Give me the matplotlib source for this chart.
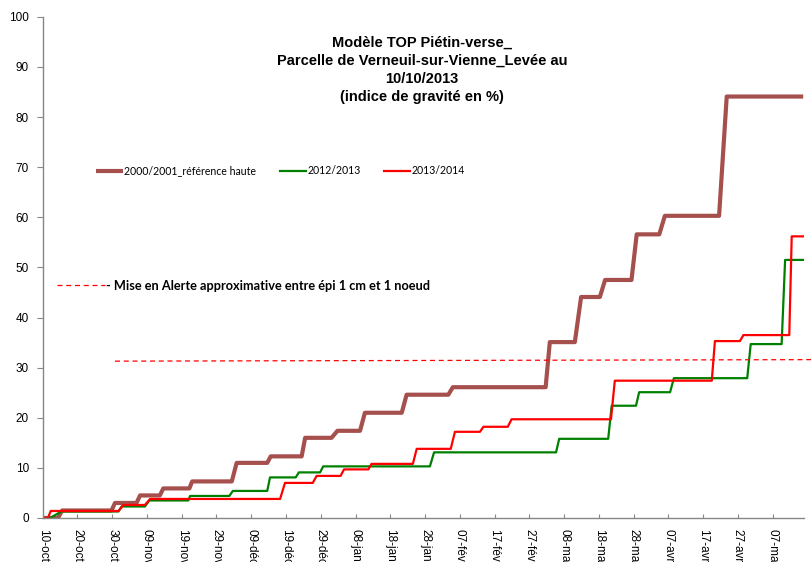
import matplotlib
matplotlib.use("Agg")
import matplotlib.pyplot as plt
from matplotlib.lines import Line2D

# days counted from 10 October (leap-year calendar, as on the original axis)
tick_days = list(range(0, 211, 10))
tick_labels = ["10-oct", "20-oct", "30-oct", "09-nov", "19-nov", "29-nov",
               "09-déc", "19-déc", "29-déc", "08-jan", "18-jan", "28-jan",
               "07-fév", "17-fév", "27-fév", "08-mar", "18-mar", "28-mar",
               "07-avr", "17-avr", "27-avr", "07-mai"]
tick_labels = tick_labels[:len(tick_days)]

ref_days = [0, 4.4, 5.6, 19.8, 20.8, 27.0, 28.0, 33.7, 34.7, 42.2, 43.0, 54.4, 55.8,
            64.6, 65.6, 74.5, 75.5, 83.1, 84.8, 91.3, 92.7, 103.3, 104.7, 116.7, 118.0,
            144.7, 145.9, 153.1, 154.9, 160.3, 161.8, 169.4, 170.9, 177.4, 179.0,
            194.6, 196.8, 218.8]
ref_vals = [0, 0, 1.5, 1.5, 3.0, 3.0, 4.5, 4.5, 5.9, 5.9, 7.3, 7.3, 11.0,
            11.0, 12.3, 12.3, 16.0, 16.0, 17.4, 17.4, 21.0, 21.0, 24.6, 24.6, 26.1,
            26.1, 35.1, 35.1, 44.1, 44.1, 47.5, 47.5, 56.6, 56.6, 60.3,
            60.3, 84.1, 84.1]

s1213_days = [0, 2.1, 5.4, 21.8, 22.7, 29.4, 30.7, 41.9, 42.4, 53.7, 54.7, 64.6, 65.4,
              72.8, 73.7, 79.8, 80.7, 111.4, 112.6, 147.7, 148.6, 162.7, 163.7,
              170.7, 171.6, 180.5, 181.6, 202.7, 203.7, 212.6, 213.6, 218.8]
s1213_vals = [0, 0, 1.3, 1.3, 2.3, 2.3, 3.5, 3.5, 4.4, 4.4, 5.4, 5.4, 8.1,
              8.1, 9.1, 9.1, 10.3, 10.3, 13.1, 13.1, 15.8, 15.8, 22.4,
              22.4, 25.1, 25.1, 27.9, 27.9, 34.7, 34.7, 51.5, 51.5]

s1314_days = [0, 1.5, 2.3, 21.8, 23.2, 29.4, 30.9, 68.3, 69.7, 77.7, 78.8, 85.7, 86.7,
              93.7, 94.6, 106.5, 107.6, 117.4, 118.6, 125.8, 126.8, 133.8, 134.9,
              163.5, 164.6, 192.5, 193.4, 200.6, 201.6, 214.8, 215.5, 218.8]
s1314_vals = [0, 0, 1.4, 1.4, 2.6, 2.6, 3.8, 3.8, 7.0, 7.0, 8.4, 8.4, 9.7,
              9.7, 10.8, 10.8, 13.8, 13.8, 17.2, 17.2, 18.2, 18.2, 19.7,
              19.7, 27.4, 27.4, 35.3, 35.3, 36.5, 36.5, 56.2, 56.2]

alert_days = [20.8, 221.3]
alert_vals = [31.3, 31.6]

title = ("Modèle TOP Piétin-verse_\nParcelle de Verneuil-sur-Vienne_Levée au\n"
         "10/10/2013\n(indice de gravité en %)")

BROWN = "#A5504D"
GREEN = "#008000"
RED = "#FF0000"
GREY = "#878787"

fig = plt.figure(figsize=(8.12, 5.62), dpi=100)
ax = fig.add_axes([0.0526, 0.0783, 0.9374, 0.8917])

ax.plot(ref_days, ref_vals, color=BROWN, lw=3.0, solid_capstyle="butt",
        label="2000/2001_référence haute")
ax.plot(s1213_days, s1213_vals, color=GREEN, lw=1.6, label="2012/2013")
ax.plot(s1314_days, s1314_vals, color=RED, lw=1.6, label="2013/2014")
ax.plot(alert_days, alert_vals, color=RED, lw=0.9, ls=(0, (4, 3)), clip_on=False)

ax.set_xlim(0, 219)
ax.set_ylim(0, 100)
ax.set_yticks(range(0, 101, 10))
ax.set_xticks(tick_days)
ax.set_xticklabels(tick_labels, rotation=270, ha="center", va="top",
                   fontfamily="Liberation Sans", fontsize=8.5)
for lab in ax.get_yticklabels():
    lab.set_fontfamily("Liberation Sans")
    lab.set_fontsize(8.5)

for side in ("top", "right"):
    ax.spines[side].set_visible(False)
for side in ("left", "bottom"):
    ax.spines[side].set_color(GREY)
    ax.spines[side].set_linewidth(1.0)
ax.tick_params(axis="y", direction="out", length=4, color=GREY, pad=6)
ax.tick_params(axis="x", direction="in", length=3, color=GREY, pad=8)

ax.text(0.52, 0.936, title, transform=fig.transFigure, ha="center", va="top",
        fontfamily="Liberation Sans", fontweight="bold", fontsize=10.5,
        linespacing=1.36)

leg = ax.legend(loc="center left", bbox_to_anchor=(0.058, 0.693), ncol=3,
                frameon=False, handlelength=2.5, handletextpad=0.15,
                columnspacing=2.2, prop={"family": "Lato", "size": 7.6})
ax.add_artist(leg)

alert_handle = Line2D([], [], color=RED, lw=0.9, ls=(0, (4, 3)))
ax.legend([alert_handle], ["- Mise en Alerte approximative entre épi 1 cm et 1 noeud"],
          loc="center left", bbox_to_anchor=(0.004, 0.463), frameon=False,
          handlelength=3.7, handletextpad=0.1,
          prop={"family": "Lato", "weight": "bold", "size": 9.2})

fig.savefig("out.png", dpi=100)
